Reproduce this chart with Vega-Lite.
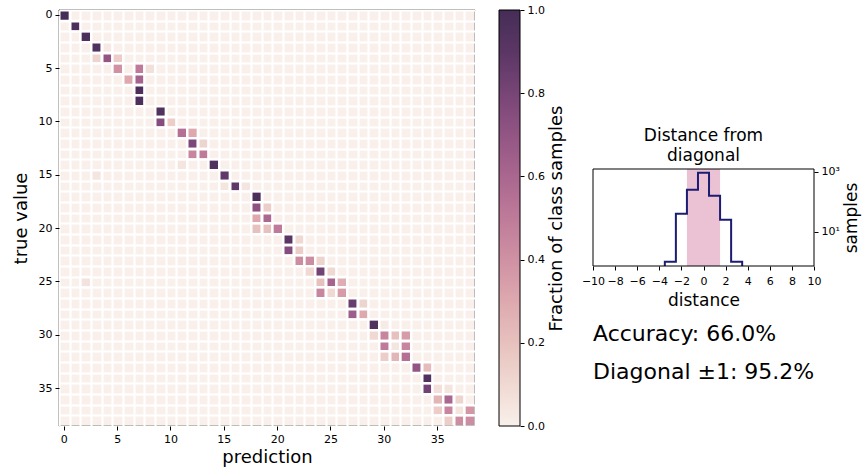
{
  "$schema": "https://vega.github.io/schema/vega-lite/v6.json",
  "padding": {"left": 12, "top": 4, "right": 2, "bottom": 2},
  "config": {
    "font": "DejaVu Sans",
    "view": {"stroke": null},
    "axis": {"labelFont": "DejaVu Sans", "titleFont": "DejaVu Sans", "labelColor": "black", "titleColor": "black", "tickColor": "black", "domainColor": "black", "titleFontWeight": "normal", "labelFontSize": 11, "tickSize": 4, "tickWidth": 1, "labelPadding": 3, "grid": false},
    "title": {"font": "DejaVu Sans", "fontWeight": "normal", "color": "black"},
    "text": {"font": "DejaVu Sans", "color": "black"}
  },
  "datasets": {
    "cells": [
      {"t":0,"p":0,"v":1.0},{"t":1,"p":1,"v":0.97},{"t":2,"p":2,"v":0.97},{"t":3,"p":3,"v":0.95},{"t":3,"p":4,"v":0.03},
      {"t":4,"p":3,"v":0.12},{"t":4,"p":4,"v":0.7},{"t":4,"p":5,"v":0.15},
      {"t":5,"p":5,"v":0.4},{"t":5,"p":7,"v":0.5},{"t":5,"p":8,"v":0.07},
      {"t":6,"p":6,"v":0.3},{"t":6,"p":7,"v":0.62},
      {"t":7,"p":7,"v":0.97},{"t":8,"p":7,"v":0.97},{"t":9,"p":9,"v":0.95},
      {"t":10,"p":9,"v":0.75},{"t":10,"p":10,"v":0.15},
      {"t":11,"p":11,"v":0.55},{"t":11,"p":12,"v":0.3},
      {"t":12,"p":12,"v":0.78},{"t":12,"p":13,"v":0.12},
      {"t":13,"p":12,"v":0.45},{"t":13,"p":13,"v":0.5},
      {"t":14,"p":11,"v":0.05},{"t":14,"p":14,"v":0.95},
      {"t":15,"p":3,"v":0.05},{"t":15,"p":15,"v":0.88},
      {"t":16,"p":15,"v":0.05},{"t":16,"p":16,"v":0.88},{"t":16,"p":17,"v":0.05},
      {"t":17,"p":18,"v":0.97},
      {"t":18,"p":18,"v":0.72},{"t":18,"p":19,"v":0.15},
      {"t":19,"p":18,"v":0.3},{"t":19,"p":19,"v":0.6},
      {"t":20,"p":18,"v":0.2},{"t":20,"p":19,"v":0.2},{"t":20,"p":20,"v":0.5},
      {"t":21,"p":21,"v":0.9},{"t":21,"p":22,"v":0.1},
      {"t":22,"p":21,"v":0.75},{"t":22,"p":22,"v":0.15},
      {"t":23,"p":22,"v":0.42},{"t":23,"p":23,"v":0.42},{"t":23,"p":24,"v":0.12},
      {"t":24,"p":23,"v":0.1},{"t":24,"p":24,"v":0.82},{"t":24,"p":25,"v":0.1},
      {"t":25,"p":2,"v":0.06},{"t":25,"p":24,"v":0.2},{"t":25,"p":25,"v":0.62},{"t":25,"p":26,"v":0.28},
      {"t":26,"p":24,"v":0.45},{"t":26,"p":25,"v":0.1},{"t":26,"p":26,"v":0.35},
      {"t":27,"p":27,"v":0.85},{"t":27,"p":28,"v":0.12},
      {"t":28,"p":27,"v":0.65},{"t":28,"p":28,"v":0.3},
      {"t":29,"p":29,"v":0.95},{"t":29,"p":30,"v":0.02},
      {"t":30,"p":29,"v":0.1},{"t":30,"p":30,"v":0.45},{"t":30,"p":31,"v":0.2},{"t":30,"p":32,"v":0.35},
      {"t":31,"p":30,"v":0.5},{"t":31,"p":31,"v":0.05},{"t":31,"p":32,"v":0.45},
      {"t":32,"p":30,"v":0.15},{"t":32,"p":31,"v":0.25},{"t":32,"p":32,"v":0.55},
      {"t":33,"p":33,"v":0.7},{"t":33,"p":34,"v":0.22},
      {"t":34,"p":34,"v":0.95},
      {"t":35,"p":34,"v":0.82},{"t":35,"p":35,"v":0.07},{"t":35,"p":36,"v":0.05},
      {"t":36,"p":35,"v":0.25},{"t":36,"p":36,"v":0.6},{"t":36,"p":37,"v":0.12},
      {"t":37,"p":35,"v":0.15},{"t":37,"p":36,"v":0.45},{"t":37,"p":37,"v":0.05},{"t":37,"p":38,"v":0.38},
      {"t":38,"p":36,"v":0.15},{"t":38,"p":37,"v":0.42},{"t":38,"p":38,"v":0.42}
    ],
    "hist": [
      {"i":0,"edge":-3.5,"count":0.5},{"i":1,"edge":-3.5,"count":1},{"i":2,"edge":-2.5,"count":40},
      {"i":3,"edge":-1.5,"count":250},{"i":4,"edge":-0.5,"count":924},{"i":5,"edge":0.5,"count":159},
      {"i":6,"edge":1.5,"count":25},{"i":7,"edge":2.5,"count":1},{"i":8,"edge":3.5,"count":0.5}
    ],
    "band": [{"a":-1.5,"b":1.5}],
    "cbar": [{"lo":0,"hi":1}],
    "frame": [{"f":1}],
    "stats": [{"k":1,"label":"Accuracy: 66.0%"},{"k":2,"label":"Diagonal ±1: 95.2%"}],
    "blank": [{"s":""}]
  },
  "spacing": 15,
  "hconcat": [
    {
      "spacing": 22,
      "hconcat": [
        {
          "width": 416, "height": 416,
          "view": {"fill": "#f9f0eb", "stroke": null},
          "layer": [
            {
              "data": {"name": "cells"},
              "mark": {"type": "rect", "opacity": 0},
              "encoding": {
                "x": {"field": "p", "type": "ordinal", "scale": {"domain": [0,1,2,3,4,5,6,7,8,9,10,11,12,13,14,15,16,17,18,19,20,21,22,23,24,25,26,27,28,29,30,31,32,33,34,35,36,37,38], "paddingInner": 0, "paddingOuter": 0}, "axis": {"orient": "top", "grid": true, "gridColor": "white", "gridWidth": 2, "gridOpacity": 1, "tickBand": "extent", "labels": false, "ticks": false, "domain": false, "title": null}},
                "y": {"field": "t", "type": "ordinal", "scale": {"domain": [0,1,2,3,4,5,6,7,8,9,10,11,12,13,14,15,16,17,18,19,20,21,22,23,24,25,26,27,28,29,30,31,32,33,34,35,36,37,38], "paddingInner": 0, "paddingOuter": 0}, "axis": {"orient": "right", "grid": true, "gridColor": "white", "gridWidth": 2, "gridOpacity": 1, "tickBand": "extent", "labels": false, "ticks": false, "domain": false, "title": null}}
              }
            },
            {
              "data": {"name": "cells"},
              "mark": {"type": "rect", "stroke": "white", "strokeWidth": 2},
              "encoding": {
                "x": {"field": "p", "type": "ordinal", "scale": {"domain": [0,1,2,3,4,5,6,7,8,9,10,11,12,13,14,15,16,17,18,19,20,21,22,23,24,25,26,27,28,29,30,31,32,33,34,35,36,37,38], "paddingInner": 0, "paddingOuter": 0}, "axis": {"orient": "bottom", "values": [0,5,10,15,20,25,30,35], "labelAngle": 0, "domain": false, "title": "prediction", "titleFontSize": 18, "titlePadding": 4}},
                "y": {"field": "t", "type": "ordinal", "scale": {"domain": [0,1,2,3,4,5,6,7,8,9,10,11,12,13,14,15,16,17,18,19,20,21,22,23,24,25,26,27,28,29,30,31,32,33,34,35,36,37,38], "paddingInner": 0, "paddingOuter": 0}, "axis": {"orient": "left", "values": [0,5,10,15,20,25,30,35], "domain": false, "title": "true value", "titleFontSize": 18, "titlePadding": 8}},
                "color": {"field": "v", "type": "quantitative", "legend": null, "scale": {"domain": [0,0.1,0.2,0.3,0.4,0.5,0.6,0.7,0.8,0.9,1], "range": ["#f9f0eb","#f0d9d2","#e7c1be","#dda9af","#cf91a3","#be7b99","#aa678f","#925584","#774576","#5b3665","#452d57"], "interpolate": "rgb"}}
              }
            },
            {
              "data": {"name": "frame"},
              "mark": {"type": "rect", "fill": "transparent", "stroke": "black", "strokeWidth": 1},
              "encoding": {}
            }
          ],
          "resolve": {"axis": {"x": "independent", "y": "independent"}}
        },
        {
          "width": 21, "height": 416,
          "layer": [
            {
              "data": {"name": "cbar"},
              "mark": {"type": "rect", "fill": {"gradient": "linear", "x1": 0, "y1": 1, "x2": 0, "y2": 0, "stops": [
                {"offset": 0, "color": "#f9f0eb"},{"offset": 0.1, "color": "#f0d9d2"},{"offset": 0.2, "color": "#e7c1be"},{"offset": 0.3, "color": "#dda9af"},{"offset": 0.4, "color": "#cf91a3"},{"offset": 0.5, "color": "#be7b99"},{"offset": 0.6, "color": "#aa678f"},{"offset": 0.7, "color": "#925584"},{"offset": 0.8, "color": "#774576"},{"offset": 0.9, "color": "#5b3665"},{"offset": 1, "color": "#452d57"}]}},
              "encoding": {
                "y": {"field": "lo", "type": "quantitative", "scale": {"domain": [0, 1], "nice": false, "zero": false}, "axis": {"orient": "right", "values": [0,0.2,0.4,0.6,0.8,1], "format": ".1f", "domain": false, "title": "Fraction of class samples", "titleFontSize": 18, "titleAngle": 270, "titleBaseline": "top", "titlePadding": 3}},
                "y2": {"field": "hi"}
              }
            },
            {
              "data": {"name": "frame"},
              "mark": {"type": "rect", "fill": "transparent", "stroke": "black", "strokeWidth": 1},
              "encoding": {}
            }
          ]
        }
      ]
    },
    {
      "spacing": 5,
      "vconcat": [
        {
          "width": 221, "height": 111,
          "data": {"name": "blank"},
          "mark": {"type": "text"},
          "encoding": {"text": {"field": "s"}}
        },
        {
          "width": 221, "height": 97,
          "title": {"text": ["Distance from", "diagonal"], "fontSize": 17, "lineHeight": 20, "offset": 1, "anchor": "middle"},
          "layer": [
            {
              "data": {"name": "band"},
              "mark": {"type": "rect", "color": "#ebc2d3"},
              "encoding": {
                "x": {"field": "a", "type": "quantitative", "scale": {"domain": [-10, 10], "nice": false, "zero": false}, "axis": {"values": [-10,-8,-6,-4,-2,0,2,4,6,8,10], "labelOverlap": false, "labelSeparation": 0, "labelPadding": 5, "labelFontSize": 11, "domain": false, "title": "distance", "titleFontSize": 17, "titlePadding": 6, "labelFlush": false}},
                "x2": {"field": "b"}
              }
            },
            {
              "data": {"name": "hist"},
              "mark": {"type": "line", "interpolate": "step-after", "color": "#1c1c72", "strokeWidth": 2, "clip": true},
              "encoding": {
                "x": {"field": "edge", "type": "quantitative", "axis": {"values": [-10,-8,-6,-4,-2,0,2,4,6,8,10], "labelOverlap": false, "labelSeparation": 0, "labelPadding": 5, "labelFontSize": 11, "domain": false, "title": "distance", "titleFontSize": 17, "titlePadding": 6, "labelFlush": false}},
                "y": {"field": "count", "type": "quantitative", "scale": {"type": "log", "domain": [0.72, 1230], "nice": false}, "axis": {"orient": "right", "values": [10, 1000], "labelExpr": "datum.value >= 1000 ? '10³' : '10¹'", "domain": false, "title": "samples", "titleFontSize": 17, "titleAngle": 270, "titleBaseline": "top", "titlePadding": 4}},
                "order": {"field": "i", "type": "quantitative"}
              }
            },
            {
              "data": {"name": "frame"},
              "mark": {"type": "rect", "fill": "transparent", "stroke": "black", "strokeWidth": 1},
              "encoding": {}
            }
          ]
        },
        {
          "width": 221, "height": 80,
          "data": {"name": "stats"},
          "mark": {"type": "text", "align": "left", "baseline": "middle", "fontSize": 22},
          "encoding": {
            "x": {"datum": 0, "type": "quantitative", "scale": {"domain": [0, 1]}, "axis": null},
            "y": {"field": "k", "type": "ordinal", "scale": {"padding": 0.553}, "axis": null},
            "text": {"field": "label"}
          }
        }
      ]
    }
  ]
}
